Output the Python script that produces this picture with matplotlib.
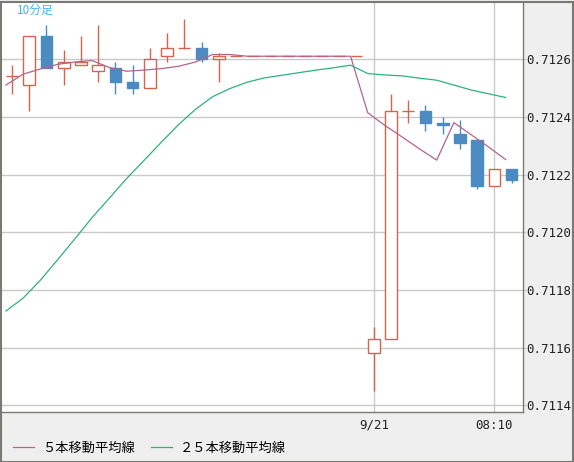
import numpy as np
import matplotlib
matplotlib.use('Agg')
import matplotlib.pyplot as plt
from matplotlib.patches import Rectangle

plt.rcParams['font.family'] = ['Noto Sans CJK JP', 'DejaVu Sans']

# ── Data (10-minute bars) ─────────────────────────────────────────────────────
opens  = [0.71254, 0.71251, 0.71268, 0.71257, 0.71258, 0.71256, 0.71257, 0.71252,
          0.71250, 0.71261, 0.71264, 0.71264, 0.71260, 0.71261, 0.71261, 0.71261,
          0.71261, 0.71261, 0.71261, 0.71261, 0.71261, 0.71158, 0.71163, 0.71242,
          0.71242, 0.71238, 0.71234, 0.71232, 0.71216, 0.71222]
highs  = [0.71258, 0.71268, 0.71272, 0.71263, 0.71268, 0.71272, 0.71259, 0.71258,
          0.71264, 0.71269, 0.71274, 0.71266, 0.71262, 0.71261, 0.71261, 0.71261,
          0.71261, 0.71261, 0.71261, 0.71261, 0.71261, 0.71167, 0.71248, 0.71246,
          0.71244, 0.71240, 0.71239, 0.71232, 0.71222, 0.71222]
lows   = [0.71248, 0.71242, 0.71257, 0.71251, 0.71258, 0.71252, 0.71248, 0.71248,
          0.71250, 0.71259, 0.71264, 0.71259, 0.71252, 0.71261, 0.71261, 0.71261,
          0.71261, 0.71261, 0.71261, 0.71261, 0.71261, 0.71145, 0.71163, 0.71238,
          0.71235, 0.71234, 0.71229, 0.71215, 0.71216, 0.71217]
closes = [0.71254, 0.71268, 0.71257, 0.71259, 0.71259, 0.71258, 0.71252, 0.71250,
          0.71260, 0.71264, 0.71264, 0.71260, 0.71261, 0.71261, 0.71261, 0.71261,
          0.71261, 0.71261, 0.71261, 0.71261, 0.71261, 0.71163, 0.71242, 0.71242,
          0.71238, 0.71237, 0.71231, 0.71216, 0.71222, 0.71218]

ma5  = [0.712510, 0.712548, 0.712566, 0.712582, 0.712590, 0.712595, 0.712571, 0.712558,
        0.712562, 0.712567, 0.712575, 0.712590, 0.712616, 0.712616, 0.712610, 0.712610,
        0.712610, 0.712610, 0.712610, 0.712610, 0.712610, 0.712414, 0.712370, 0.712330,
        0.712289, 0.712250, 0.712380, 0.712338, 0.712296, 0.712252]
ma25 = [0.711727, 0.711772, 0.711834, 0.711905, 0.711977, 0.712051, 0.712118, 0.712186,
        0.712248, 0.712311, 0.712372, 0.712426, 0.712470, 0.712498, 0.712520, 0.712535,
        0.712544, 0.712553, 0.712562, 0.712570, 0.712579, 0.712550, 0.712545, 0.712542,
        0.712534, 0.712527, 0.712510, 0.712493, 0.712480, 0.712467]

YTICKS  = [0.7114, 0.7116, 0.7118, 0.7120, 0.7122, 0.7124, 0.7126]
XTICKS  = [21, 28]
XLABELS = ["9/21", "08:10"]
LABEL5  = "５本移動平均線"
LABEL25 = "２５本移動平均線"

UP_C   = '#d4654c'
DOWN_C = '#4b8bc1'
MA5_C  = '#b3648a'
MA25_C = '#2fb07c'
GRID_C = '#c9c9c9'
FRAME_C = '#7a7a74'

# ── Figure ────────────────────────────────────────────────────────────────────
W, H = 574, 462
fig = plt.figure(figsize=(W / 100, H / 100), dpi=100, facecolor='#efefef')
ax = fig.add_axes([2 / W, (H - 412) / H, 521 / W, 410 / H])
ax.set_facecolor('white')

n = len(opens)
x = np.arange(n)
o, h, l, c = map(np.array, (opens, highs, lows, closes))
up = c >= o

# wicks
ax.vlines(x[up], l[up], h[up], color=UP_C, lw=1, zorder=2)
ax.vlines(x[~up], l[~up], h[~up], color=DOWN_C, lw=1, zorder=2)
# bodies
bw = 0.68
for i in range(n):
    lo, hi = min(o[i], c[i]), max(o[i], c[i])
    if up[i]:
        ax.add_patch(Rectangle((x[i] - bw / 2, lo), bw, hi - lo, facecolor='white',
                               edgecolor=UP_C, lw=1, zorder=3))
    else:
        ax.add_patch(Rectangle((x[i] - bw / 2, lo), bw, hi - lo, facecolor=DOWN_C,
                               edgecolor=DOWN_C, lw=1, zorder=3))

# moving averages (drawn slightly left of candle centres, as in the source)
line5, = ax.plot(x - 0.35, ma5, color=MA5_C, lw=0.9, zorder=4, label=LABEL5)
line25, = ax.plot(x - 0.35, ma25, color=MA25_C, lw=0.9, zorder=4, label=LABEL25)

ax.set_xlim(-0.58, 29.66)
ax.set_ylim(0.711377, 0.712798)

ax.yaxis.tick_right()
ax.set_yticks(YTICKS)
ax.set_yticklabels([f"{v:.4f}" for v in YTICKS], family='DejaVu Sans Mono', fontsize=9.0)
ax.set_xticks(XTICKS)
ax.set_xticklabels(XLABELS, family='DejaVu Sans Mono', fontsize=9.0)
ax.tick_params(axis='y', length=2, width=1, color=GRID_C, pad=0.5, labelcolor='#222222')
ax.tick_params(axis='x', length=0, pad=5, labelcolor='#222222')
ax.grid(True, color=GRID_C, lw=1, zorder=0)
ax.set_axisbelow(True)
for s in ax.spines.values():
    s.set_color(FRAME_C)
    s.set_linewidth(1)
ax.spines['left'].set_visible(False)
ax.spines['top'].set_visible(False)

ax.text(15 / 521, 1 - 8 / 410, "10分足", transform=ax.transAxes, color='#3eb6ea',
        fontsize=8.5, va='center', ha='left')

fig.legend(handles=[line5, line25], loc='center left', ncol=2, frameon=False,
           bbox_to_anchor=(8 / W, 1 - 448 / H), fontsize=9.5, handlelength=1.6,
           handletextpad=0.6, columnspacing=1.2, borderaxespad=0)

# outer frame
fig.patches.append(Rectangle((0.5 / W, 0.5 / H), (W - 2) / W, (H - 2) / H,
                             transform=fig.transFigure, fill=False,
                             edgecolor=FRAME_C, lw=1.5))

plt.savefig("out.png", dpi=100, facecolor=fig.get_facecolor())
